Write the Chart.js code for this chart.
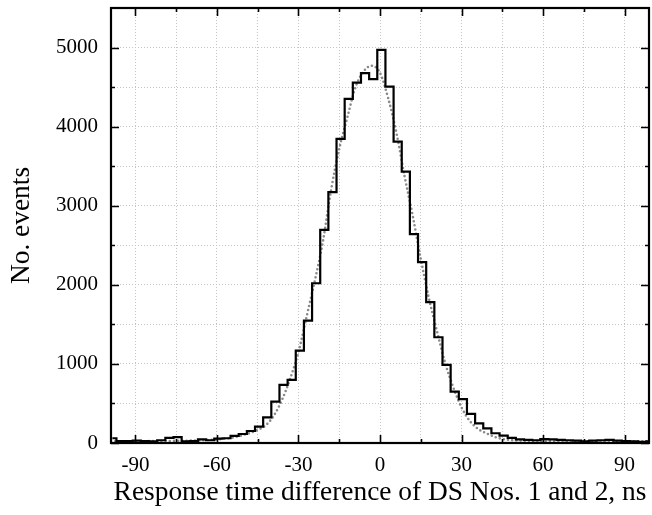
<!DOCTYPE html>
<html>
<head>
<meta charset="utf-8">
<script src="https://cdn.jsdelivr.net/npm/chart.js@4.4.1/dist/chart.umd.min.js"></script>
<style>
  html, body { margin: 0; padding: 0; background: #fff; }
  #wrap { width: 652px; height: 515px; }
</style>
</head>
<body>
<div id="wrap"><canvas id="c" width="652" height="515"></canvas></div>
<script>
// Histogram bin centres (ns) and counts
const binCenters = [-98.5,-95.5,-92.5,-89.5,-86.5,-83.5,-80.5,-77.5,-74.5,-71.5,-68.5,-65.5,-62.5,-59.5,-56.5,-53.5,-50.5,-47.5,-44.5,-41.5,-38.5,-35.5,-32.5,-29.5,-26.5,-23.5,-20.5,-17.5,-14.5,-11.5,-8.5,-5.5,-2.5,0.5,3.5,6.5,9.5,12.5,15.5,18.5,21.5,24.5,27.5,30.5,33.5,36.5,39.5,42.5,45.5,48.5,51.5,54.5,57.5,60.5,63.5,66.5,69.5,72.5,75.5,78.5,81.5,84.5,87.5,90.5,93.5,96.5,99.5];
const counts = [60,25,25,30,25,20,35,65,75,20,25,45,35,55,60,90,114,152,206,325,522,734,797,1167,1547,2020,2694,3171,3845,4351,4557,4676,4600,4971,4507,3811,3432,2640,2286,1780,1337,987,649,556,367,249,186,123,92,65,45,40,35,50,45,40,35,30,20,30,35,40,30,25,20,15,20];

// Fitted curve (dotted grey)
const fitX = [-99,-90,-80,-70,-65,-60,-57,-54,-51,-48,-45,-42,-39,-36,-33,-30,-27,-24,-21,-18,-15,-12,-9,-6,-3,0,3,6,9,12,15,18,21,24,27,30,33,36,39,42,45,48,52,60,70,80,90,99];
const fitY = [20,22,25,30,35,45,55,70,95,125,165,225,350,550,820,1150,1600,2050,2550,3200,3720,4120,4500,4700,4770,4680,4360,3930,3380,2880,2330,1830,1410,1010,700,450,280,180,125,80,52,38,30,25,22,20,20,20];

// Axis ticks
const xTicks = [-90,-75,-60,-45,-30,-15,0,15,30,45,60,75,90];
const xLabelStep = 30;
const yTicks = [0,500,1000,1500,2000,2500,3000,3500,4000,4500,5000];
const yLabelStep = 1000;

const xTitle = 'Response time difference of DS Nos. 1 and 2, ns';
const yTitle = 'No. events';

const FONT = '"Liberation Serif", "Times New Roman", serif';

const histData = binCenters.map((x, i) => ({x: x, y: counts[i]}));
const fitData = fitX.map((x, i) => ({x: x, y: fitY[i]}));

const frameTicks = {
  id: 'frameTicks',
  afterDatasetsDraw(chart) {
    const {ctx, chartArea: a, scales: {x, y}} = chart;
    ctx.save();
    ctx.strokeStyle = '#000';
    ctx.lineWidth = 1.6;
    ctx.beginPath();
    xTicks.forEach(v => {
      const px = Math.round(x.getPixelForValue(v)) + 0.5;
      const len = (v % xLabelStep === 0) ? 8 : 4;
      ctx.moveTo(px, a.bottom); ctx.lineTo(px, a.bottom - len);
      ctx.moveTo(px, a.top); ctx.lineTo(px, a.top + len);
    });
    yTicks.forEach(v => {
      const py = Math.round(y.getPixelForValue(v)) + 0.5;
      const len = (v % yLabelStep === 0) ? 8 : 4;
      ctx.moveTo(a.left, py); ctx.lineTo(a.left + len, py);
      ctx.moveTo(a.right, py); ctx.lineTo(a.right - len, py);
    });
    ctx.stroke();
    ctx.lineWidth = 2.2;
    ctx.strokeRect(a.left, a.top, a.right - a.left, a.bottom - a.top);
    ctx.restore();
  }
};

new Chart(document.getElementById('c'), {
  type: 'line',
  data: {
    datasets: [
      {
        label: 'fit',
        data: fitData,
        borderColor: '#8a8a8a',
        borderWidth: 2.6,
        borderDash: [0, 4.2],
        borderCapStyle: 'round',
        pointRadius: 0,
        fill: false,
        cubicInterpolationMode: 'monotone',
        order: 2
      },
      {
        label: 'hist',
        data: histData,
        borderColor: '#000',
        borderWidth: 2.2,
        stepped: 'middle',
        pointRadius: 0,
        fill: false,
        order: 1
      }
    ]
  },
  options: {
    responsive: false,
    animation: false,
    devicePixelRatio: 1,
    layout: { padding: { left: 0, top: 8, right: 3, bottom: 0 } },
    plugins: { legend: { display: false }, tooltip: { enabled: false } },
    scales: {
      x: {
        type: 'linear',
        min: -99,
        max: 99,
        afterBuildTicks: s => { s.ticks = xTicks.map(v => ({value: v})); },
        afterFit: s => { s.height = 72; s.paddingLeft = 0; s.paddingRight = 0; },
        ticks: {
          autoSkip: false,
          maxRotation: 0,
          color: '#000',
          padding: 10,
          font: { family: FONT, size: 21 },
          callback: v => (v % xLabelStep === 0 ? String(v) : '')
        },
        grid: { color: '#c4c4c4', lineWidth: 1, drawTicks: false },
        border: { display: false, dash: [1, 2] },
        title: {
          display: true,
          text: xTitle,
          color: '#000',
          font: { family: FONT, size: 27.4, lineHeight: 1 },
          padding: { top: 0, bottom: 8 }
        }
      },
      y: {
        type: 'linear',
        min: 0,
        max: 5500,
        afterBuildTicks: s => { s.ticks = yTicks.map(v => ({value: v})); },
        afterFit: s => { s.width = 111; s.paddingTop = 0; s.paddingBottom = 0; },
        ticks: {
          autoSkip: false,
          color: '#000',
          padding: 13,
          font: { family: FONT, size: 21 },
          callback: v => (v % yLabelStep === 0 ? String(v) : '')
        },
        grid: { color: '#c4c4c4', lineWidth: 1, drawTicks: false },
        border: { display: false, dash: [1, 2] },
        title: {
          display: true,
          text: yTitle,
          color: '#000',
          font: { family: FONT, size: 27.4, lineHeight: 1 },
          padding: { top: 8, bottom: 0 }
        }
      }
    }
  },
  plugins: [frameTicks]
});
</script>
</body>
</html>
